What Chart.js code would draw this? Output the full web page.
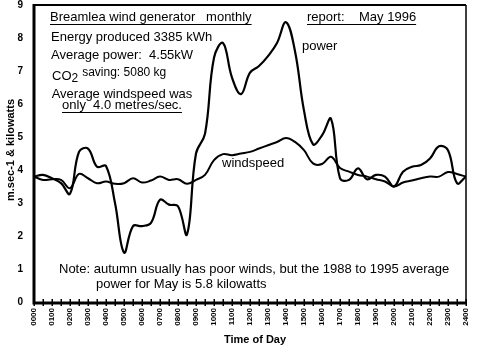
<!DOCTYPE html>
<html>
<head>
<meta charset="utf-8">
<script src="https://cdn.jsdelivr.net/npm/chart.js@4.4.1/dist/chart.umd.min.js"></script>
<style>
html,body{margin:0;padding:0;background:#fff;}
#wrap{width:477px;height:348px;position:relative;}
</style>
</head>
<body>
<div id="wrap"><canvas id="c" width="477" height="348"></canvas></div>
<script>
const hours = [0,0.5,1,1.5,2,2.5,3,3.5,4,4.5,5,5.5,6,6.5,7,7.5,8,8.5,9,9.5,10,10.5,11,11.5,12,12.5,13,13.5,14,14.5,15,15.5,16,16.5,17,17.5,18,18.5,19,19.5,20,20.5,21,21.5,22,22.5,23,23.5,24];
const powerKW = [3.8,3.85,3.75,3.6,3.28,4.55,4.65,4.1,4.12,3.0,1.5,2.3,2.3,2.4,3.1,2.95,2.9,2.05,4.5,5.1,7.4,7.85,6.8,6.3,6.95,7.15,7.45,7.85,8.48,7.6,5.8,4.78,5.05,5.55,3.75,3.7,4.05,3.72,3.85,3.8,3.5,3.95,4.1,4.15,4.35,4.72,4.6,3.6,3.8];
const windspeed = [3.8,3.7,3.72,3.7,3.45,3.88,3.75,3.6,3.65,3.58,3.6,3.75,3.62,3.68,3.8,3.7,3.72,3.58,3.7,3.85,4.3,4.48,4.45,4.5,4.55,4.65,4.75,4.85,4.97,4.85,4.6,4.2,4.18,4.4,4.06,3.95,3.85,3.8,3.72,3.65,3.5,3.62,3.68,3.75,3.8,3.8,3.94,3.88,3.8];
const xTickLabels = ["0000","0100","0200","0300","0400","0500","0600","0700","0800","0900","1000","1100","1200","1300","1400","1500","1600","1700","1800","1900","2000","2100","2200","2300","2400"];
const yTickLabels = ["0","1","2","3","4","5","6","7","8","9"];

const FONT = '"Liberation Sans", Arial, sans-serif';

const decor = {
  id: 'decor',
  afterDraw(chart) {
    const ctx = chart.ctx;
    const a = chart.chartArea;
    const xs = chart.scales.x;
    ctx.save();
    ctx.strokeStyle = '#000';
    ctx.fillStyle = '#000';
    // frame
    ctx.lineWidth = 2;
    ctx.beginPath();
    ctx.moveTo(a.left, a.top); ctx.lineTo(a.right, a.top);
    ctx.stroke();
    ctx.lineWidth = 1.5;
    ctx.beginPath();
    ctx.moveTo(a.right, a.top); ctx.lineTo(a.right, a.bottom);
    ctx.stroke();
    ctx.lineWidth = 3;
    ctx.beginPath();
    ctx.moveTo(a.left, a.top - 1); ctx.lineTo(a.left, a.bottom + 1);
    ctx.lineTo(a.right + 1, a.bottom + 1);
    ctx.stroke();
    // half-hour ticks crossing axis
    ctx.lineWidth = 1.5;
    for (let i = 0; i < hours.length; i++) {
      const px = Math.round(xs.getPixelForValue(hours[i])) + 0.25;
      ctx.beginPath();
      ctx.moveTo(px, a.bottom - 3);
      ctx.lineTo(px, a.bottom + 4);
      ctx.stroke();
    }
    // texts
    ctx.textBaseline = 'alphabetic';
    ctx.textAlign = 'left';
    const underline = (txt, x, y) => {
      ctx.fillText(txt, x, y);
      const w = ctx.measureText(txt).width;
      ctx.lineWidth = 1;
      ctx.beginPath();
      ctx.moveTo(x, y + 3.5); ctx.lineTo(x + w, y + 3.5);
      ctx.stroke();
    };
    ctx.font = '13px ' + FONT;
    underline('Breamlea wind generator   monthly', 50, 21);
    underline('report:    May 1996', 307, 21);
    ctx.fillText('Energy produced 3385 kWh', 51, 41);
    ctx.fillText('Average power:  4.55kW', 51, 59);
    ctx.fillText('CO', 52, 80);
    let w = ctx.measureText('CO').width;
    ctx.font = '12px ' + FONT;
    ctx.fillText('2', 52 + w, 82);
    let w2 = ctx.measureText('2').width;
    ctx.fillText('saving: 5080 kg', 52 + w + w2 + 4, 76);
    ctx.font = '13px ' + FONT;
    ctx.textAlign = 'center';
    ctx.fillText('Average windspeed was', 122, 98);
    ctx.textAlign = 'left';
    const t6 = 'only  4.0 metres/sec.';
    const w6 = ctx.measureText(t6).width;
    underline(t6, 122 - w6 / 2, 109);
    ctx.fillText('power', 302, 50);
    ctx.fillText('windspeed', 222, 167);
    ctx.fillText('Note: autumn usually has poor winds, but the 1988 to 1995 average', 59, 273);
    ctx.fillText('power for May is 5.8 kilowatts', 96, 288);
    // axis titles
    ctx.font = 'bold 11px ' + FONT;
    ctx.textAlign = 'center';
    ctx.fillText('Time of Day', 255, 343);
    ctx.translate(14, 150);
    ctx.rotate(-Math.PI / 2);
    ctx.fillText('m.sec-1 & kilowatts', 0, 0);
    ctx.restore();
  }
};

new Chart(document.getElementById('c'), {
  type: 'line',
  data: {
    datasets: [
      {
        label: 'power',
        data: hours.map((h, i) => ({x: h, y: powerKW[i]})),
        borderColor: '#000',
        borderWidth: 2.2,
        pointRadius: 0,
        tension: 0.4,
        fill: false
      },
      {
        label: 'windspeed',
        data: hours.map((h, i) => ({x: h, y: windspeed[i]})),
        borderColor: '#000',
        borderWidth: 2,
        pointRadius: 0,
        tension: 0.4,
        fill: false
      }
    ]
  },
  options: {
    responsive: false,
    animation: false,
    devicePixelRatio: 1,
    layout: {padding: {top: 5, right: 11, left: 0, bottom: 0}},
    plugins: {legend: {display: false}, tooltip: {enabled: false}},
    scales: {
      x: {
        type: 'linear',
        min: 0, max: 24,
        grid: {display: false, drawTicks: false},
        border: {display: false},
        afterFit(s) { s.height = 46; s.paddingLeft = 0; s.paddingRight = 0; s.paddingTop = 0; s.paddingBottom = 0; },
        ticks: {
          stepSize: 1,
          autoSkip: false,
          minRotation: 90, maxRotation: 90,
          padding: 6,
          color: '#000',
          font: {family: FONT, size: 8, weight: 'bold'},
          callback: (v) => xTickLabels[v]
        }
      },
      y: {
        type: 'linear',
        min: 0, max: 9,
        grid: {display: false, drawTicks: false},
        border: {display: false},
        afterFit(s) { s.width = 34; s.paddingLeft = 0; s.paddingRight = 0; s.paddingTop = 0; s.paddingBottom = 0; },
        ticks: {
          stepSize: 1,
          padding: 11,
          color: '#000',
          font: {family: FONT, size: 10, weight: 'bold'},
          callback: (v) => yTickLabels[v]
        }
      }
    }
  },
  plugins: [decor]
});
</script>
</body>
</html>
